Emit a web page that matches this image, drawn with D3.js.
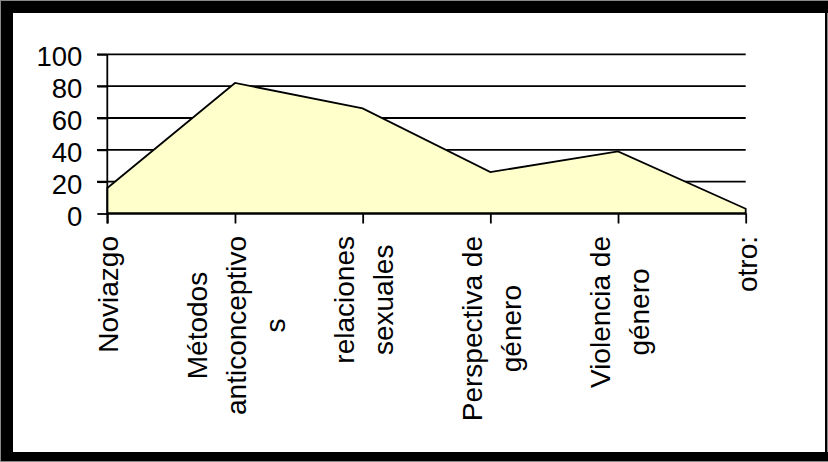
<!DOCTYPE html>
<html><head><meta charset="utf-8">
<script src="https://cdn.jsdelivr.net/npm/d3@7"></script>
<style>html,body{margin:0;padding:0;background:#fff;}svg{display:block;}</style>
</head><body>
<svg id="c" width="828" height="462"></svg>
<script>
const categories = ["Noviazgo","Métodos anticonceptivos","relaciones sexuales","Perspectiva de género","Violencia de género","otro:"];
const categoryLines = [["Noviazgo"],["Métodos","anticonceptivo","s"],["relaciones","sexuales"],["Perspectiva de","género"],["Violencia de","género"],["otro:"]];
const values = [16, 82, 66, 26, 39, 3];
const yTicks = [0, 20, 40, 60, 80, 100];

const svg = d3.select("#c");
const W = 828, H = 462;
const font = "'Liberation Sans', Arial, sans-serif";

// frame
svg.append("rect").attr("x",0.5).attr("y",0.5).attr("width",W-1).attr("height",H-1).attr("fill","#fff").attr("stroke","#888");
svg.append("rect").attr("x",1).attr("y",1).attr("width",W-1).attr("height",12).attr("fill","#000");
svg.append("rect").attr("x",1).attr("y",1).attr("width",12).attr("height",H-2).attr("fill","#000");
svg.append("rect").attr("x",1).attr("y",452).attr("width",W-1).attr("height",9).attr("fill","#000");
svg.append("rect").attr("x",825).attr("y",1).attr("width",2).attr("height",H-2).attr("fill","#000");

const x = d3.scalePoint().domain(categories).range([107.3, 745.7]);
const y = d3.scaleLinear().domain([0,100]).range([213.5, 54.3]);
const sw = 1.8;

// gridlines
svg.append("g").selectAll("line").data(yTicks.filter(d=>d>0)).join("line")
  .attr("x1",97).attr("x2",745.7).attr("y1",d=>y(d)).attr("y2",d=>y(d))
  .attr("stroke","#000").attr("stroke-width",sw);

// area
const data = categories.map((c,i)=>({c, v: values[i]}));
const area = d3.area().x(d=>x(d.c)).y0(y(0)).y1(d=>y(d.v));
svg.append("path").datum(data).attr("d", area)
  .attr("fill","#FFFFCC").attr("stroke","#000").attr("stroke-width",sw).attr("stroke-linejoin","miter");

// y axis
const yAxis = d3.axisLeft(y).tickValues(yTicks).tickSize(10).tickPadding(15).tickFormat(d3.format("d"));
const gy = svg.append("g").attr("transform","translate(107.3,0)").call(yAxis);
gy.select(".domain").attr("stroke","#000").attr("stroke-width",sw).attr("d","M0,"+y(100)+"V"+(y(0)+10));
gy.selectAll(".tick line").attr("stroke","#000").attr("stroke-width",sw);
gy.selectAll(".tick text").attr("font-family",font).attr("font-size",27.5).attr("fill","#000").attr("dy","0.42em");

// x axis
const xAxis = d3.axisBottom(x).tickSize(10).tickFormat("");
const gx = svg.append("g").attr("transform","translate(0,"+y(0)+")").call(xAxis);
gx.select(".domain").attr("stroke","#000").attr("stroke-width",sw).attr("d","M107.3,0H745.7");
gx.selectAll(".tick line").attr("stroke","#000").attr("stroke-width",sw);

// category labels (rotated, multi-line, centered block)
const topY = 236, lineH = 39, fs = 28;
categories.forEach((c,i)=>{
  const lines = categoryLines[i];
  const g = svg.append("g");
  const texts = lines.map((ln,j)=> g.append("text").text(ln)
      .attr("font-family",font).attr("font-size",fs).attr("fill","#000").attr("text-anchor","middle"));
  const maxW = d3.max(texts, t=>t.node().getComputedTextLength());
  const cy = topY + maxW/2;
  const n = lines.length;
  texts.forEach((t,j)=>{
    const bx = x(c) + (j-(n-1)/2)*lineH + 11;
    t.attr("transform","translate("+bx+","+cy+") rotate(-90)");
  });
});
</script>
</body></html>
